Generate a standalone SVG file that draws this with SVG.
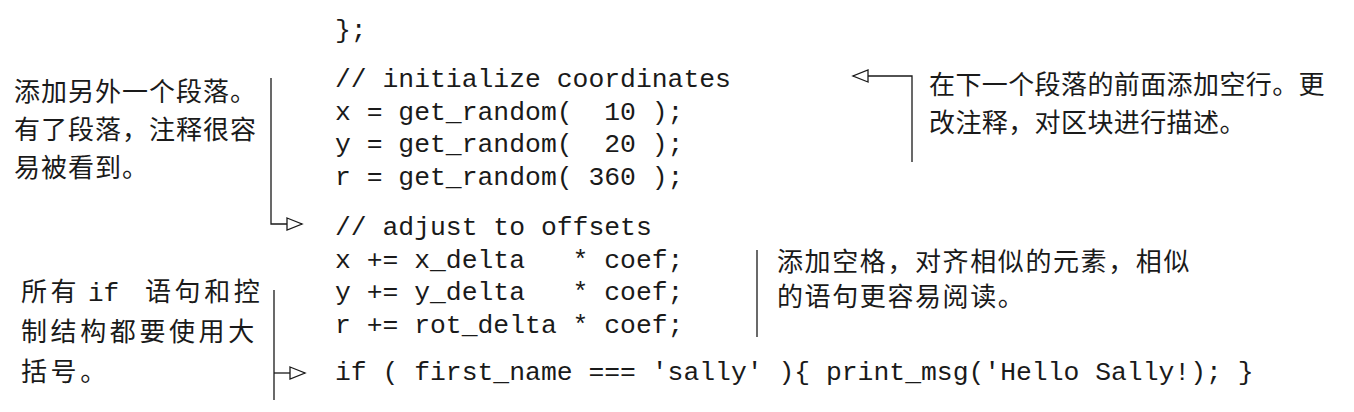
<svg xmlns="http://www.w3.org/2000/svg" width="1354" height="412" viewBox="0 0 1354 412">
<style>
.code{font-family:"Liberation Mono","Courier New",monospace;font-size:26.4px;fill:#1a1a1a}
.cjk{font-family:"Noto Sans CJK SC","Noto Sans",sans-serif;font-size:26px;fill:#1a1a1a}
.mono{font-family:"Liberation Mono",monospace;font-size:26px}
.conn{fill:none;stroke:#1a1a1a;stroke-width:1.3}
</style>
<defs>
<marker id="tri" viewBox="-1 -1 17 14" refX="15" refY="6" markerWidth="17" markerHeight="14" markerUnits="userSpaceOnUse" orient="auto" overflow="visible">
<path d="M0,0 L15,6 L0,12 Z" fill="#fff" stroke="#1a1a1a" stroke-width="1.3"/>
</marker>
</defs>
<rect width="1354" height="412" fill="#fff"/>
<g id="code" class="code">
<text x="335" y="38">};</text>
<text x="335" y="87">// initialize coordinates</text>
<text x="335" y="120" xml:space="preserve">x = get_random(&#160; 10 );</text>
<text x="335" y="152" xml:space="preserve">y = get_random(&#160; 20 );</text>
<text x="335" y="185">r = get_random( 360 );</text>
<text x="335" y="235">// adjust to offsets</text>
<text x="335" y="268" xml:space="preserve">x += x_delta&#160;&#160; * coef;</text>
<text x="335" y="300" xml:space="preserve">y += y_delta&#160;&#160; * coef;</text>
<text x="335" y="333">r += rot_delta * coef;</text>
<text x="335" y="380">if ( first_name === 'sally' ){ print_msg('Hello Sally!); }</text>
</g>
<g id="note-paragraph" class="cjk" style="letter-spacing:1px">
<text x="14" y="101">添加另外一个段落。</text>
<text x="14" y="139">有了段落，注释很容</text>
<text x="14" y="177">易被看到。</text>
</g>
<g id="note-blankline" class="cjk" style="letter-spacing:0.4px">
<text x="929" y="94">在下一个段落的前面添加空行。更</text>
<text x="929" y="132">改注释，对区块进行描述。</text>
</g>
<g id="note-align" class="cjk" style="letter-spacing:1.6px">
<text x="777" y="271">添加空格，对齐相似的元素，相似</text>
<text x="777" y="306">的语句更容易阅读。</text>
</g>
<g id="note-braces" class="cjk" style="letter-spacing:3.6px">
<text y="301"><tspan x="21">所有</tspan><tspan x="88" class="mono" style="letter-spacing:0">if</tspan><tspan x="145">语句和控</tspan></text>
<text x="21" y="341">制结构都要使用大</text>
<text x="21" y="381">括号。</text>
</g>
<g id="connectors" class="conn">
<path d="M271,78 V224 H302" marker-end="url(#tri)"/>
<path d="M274,290 V400"/>
<path d="M274,373 H305" marker-end="url(#tri)"/>
<path d="M912,162 V76 H853" marker-end="url(#tri)"/>
<path d="M757,250 V337"/>
</g>
</svg>
